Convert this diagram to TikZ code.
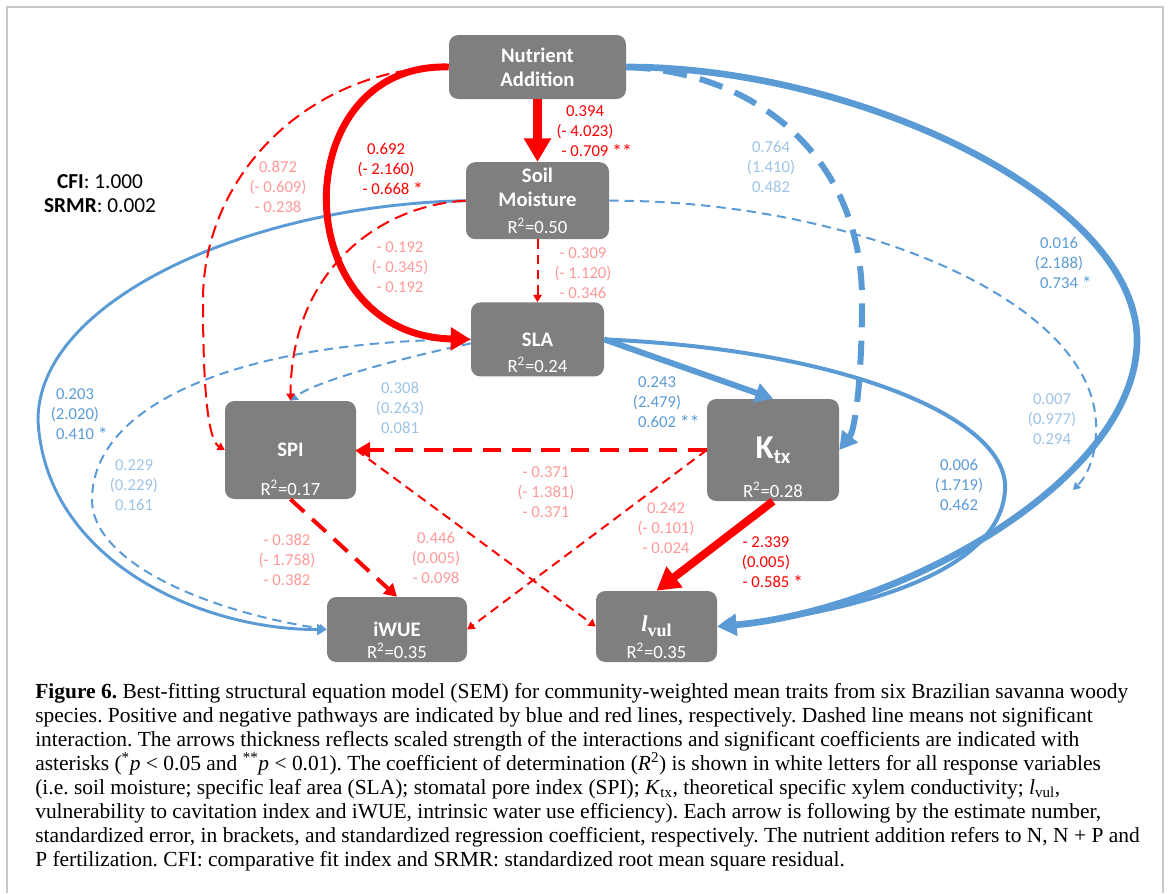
\documentclass[tikz,border=0pt]{standalone}
\usepackage{fontspec}
\setmainfont{Carlito}
\newfontfamily\capfont{Liberation Serif}
\usetikzlibrary{arrows.meta,positioning}
\definecolor{posblue}{HTML}{5B9BD5}
\definecolor{nsblue}{HTML}{9DC3E6}
\definecolor{negred}{HTML}{FF0000}
\definecolor{nsred}{HTML}{FF9999}
\definecolor{boxgray}{HTML}{7F7F7F}
\definecolor{framegray}{HTML}{C8C8C8}
\newcommand{\signif}[1]{\rlap{\ \raisebox{-2pt}{\fontsize{15}{15}\selectfont #1}}}

\begin{document}
\begin{tikzpicture}[x=0.75pt, y=-0.75pt, node distance=47pt,
    box/.style={fill=boxgray, rounded corners=7pt, text=white, align=center, inner sep=0pt, font=\bfseries\fontsize{15.5}{18}\selectfont},
    rsq/.style={text=white, inner sep=0pt, anchor=base, font=\fontsize{14}{16}\selectfont},
    coef/.style={align=center, inner sep=0pt, font=\fontsize{12.5}{15}\selectfont},
    negline/.style={draw=negred, -{Triangle[length=1.5pt 2.6, width=2pt 2.8]}},
    posline/.style={draw=posblue, -{Triangle[length=1.5pt 2.6, width=2pt 2.8]}},
    shortdashes/.style={dash pattern=on 7pt off 4.5pt},
    longdashes/.style={dash pattern=on 10pt off 5pt},
    heavydashes/.style={dash pattern=on 14pt off 8pt},
    bigdashes/.style={dash pattern=on 18pt off 10pt}]
    \useasboundingbox (0,0) rectangle (1170,893);
    \draw [framegray, line width=1.5pt] (7,893) -- (7,7) -- (1163,7) -- (1163,893);

    \node (nutrient) [box, minimum width=132.75pt, minimum height=48pt] at (537.5,67) {Nutrient\\Addition};
    \node (soil) [box, minimum width=107.25pt, minimum height=57.75pt, below=of nutrient] {Soil\\Moisture\\[2pt]{\mdseries\fontsize{14}{16}\selectfont R\textsuperscript{2}=0.50}};
    \node (sla) [box, minimum width=99.75pt, minimum height=55.5pt, below=of soil] {SLA};
    \node (spi) [box, minimum width=98.25pt, minimum height=73.5pt] at (290.5,450) {SPI};
    \node (ktx) [box, minimum width=99pt, minimum height=76.5pt] at (773,450) {{\fontsize{25}{28}\selectfont K}\raisebox{-4pt}{tx}};
    \node (iwue) [box, minimum width=105pt, minimum height=48.75pt] at (397,629.5) {iWUE};
    \node (lvul) [box, minimum width=90.75pt, minimum height=53.25pt] at (656.5,626.5) {\capfont\itshape\fontsize{17}{20}\selectfont l\raisebox{-4pt}{\upshape\fontsize{13.5}{16}\selectfont vul}};
    \node (slar) [rsq] at ([yshift=3.5pt]sla.south) {R\textsuperscript{2}=0.24};
    \node (spir) [rsq] at ([yshift=3pt]spi.south) {R\textsuperscript{2}=0.17};
    \node (ktxr) [rsq] at ([yshift=2.5pt]ktx.south) {R\textsuperscript{2}=0.28};
    \node (iwuer) [rsq] at ([yshift=3pt]iwue.south) {R\textsuperscript{2}=0.35};
    \node (lvulr) [rsq] at ([yshift=3pt]lvul.south) {R\textsuperscript{2}=0.35};
    \coordinate (soilend) at (1073,490);

    \node (fit) [align=center, inner sep=0pt, font=\fontsize{16}{18}\selectfont] at (100,194) {\textbf{CFI}: 1.000\\\textbf{SRMR}: 0.002};

    \draw [posline, line width=1.5pt, shortdashes] (soil.east) .. controls (850,200) and (1100,300) .. (1096,430) .. controls (1096,460) and (1085,478) .. (soilend);
    \draw [posline, line width=1.5pt, shortdashes] ([yshift=-3pt]sla.west) .. controls (370,365) and (310,385) .. (spi.north);
    \draw [posline, line width=1.5pt, shortdashes] (sla.west) .. controls (250,340) and (92,400) .. (92,500) .. controls (92,560) and (200,610) .. (iwue.west);
    \draw [posline, line width=2.2pt] (soil.west) .. controls (250,205) and (38,300) .. (38,420) .. controls (45,560) and (200,630) .. (iwue.west);
    \draw [posline, line width=3pt] (sla.east) .. controls (850,350) and (1010,420) .. (1005,490) .. controls (1000,580) and (830,615) .. (lvul.east);
    \draw [posline, line width=4.5pt, bigdashes] (nutrient.east) .. controls (760,72) and (862,160) .. (862,300) .. controls (862,380) and (855,430) .. (ktx.east);
    \draw [posline, line width=5pt] (nutrient.east) .. controls (860,67) and (1137,200) .. (1137,340) .. controls (1137,480) and (900,610) .. (lvul.east);
    \draw [posline, line width=4.5pt] (sla.east) -- (ktx.north);

    \draw [negline, line width=1.5pt, longdashes] (nutrient.west) .. controls (313,67) and (203,172) .. (203,300) .. controls (203,390) and (208,440) .. (spi.west);
    \draw [negline, line width=1.5pt, longdashes] (soil.west) .. controls (380,205) and (291,270) .. (spi.north);
    \draw [negline, line width=1.5pt, shortdashes] (soil) -- (sla);
    \draw [negline, line width=1.5pt, shortdashes] (spi.east) -- (lvul.west);
    \draw [negline, line width=1.5pt, shortdashes] (ktx.west) -- (iwue.east);
    \draw [negline, line width=3pt, heavydashes] (spi.south) -- (iwue.north);
    \draw [negline, line width=3.4pt, heavydashes] (ktx.west) -- (spi.east);
    \draw [negline, line width=5.2pt] (nutrient.west) .. controls (285,62) and (285,335) .. (sla.west);
    \draw [negline, line width=6.2pt] (nutrient) -- (soil);
    \draw [negline, line width=6pt] (ktx.south) -- (lvul.north);

    \node (nutsoil) [coef, text=negred] at (585,132) {0.394\\(- 4.023)\\- 0.709\signif{**}};
    \node (nutsla) [coef, text=negred] at (386,170) {0.692\\(- 2.160)\\- 0.668\signif{*}};
    \node (nutspi) [coef, text=nsred] at (278,187) {0.872\\(- 0.609)\\- 0.238};
    \node (soilspi) [coef, text=nsred] at (400,267) {- 0.192\\(- 0.345)\\- 0.192};
    \node (soilsla) [coef, text=nsred] at (583,273) {- 0.309\\(- 1.120)\\- 0.346};
    \node (nutktx) [coef, text=nsblue] at (771,167) {0.764\\(1.410)\\0.482};
    \node (nutlvul) [coef, text=posblue] at (1059,264) {0.016\\(2.188)\\0.734\signif{*}};
    \node (soillvul) [coef, text=nsblue] at (1052,419) {0.007\\(0.977)\\0.294};
    \node (slaktx) [coef, text=posblue] at (657,403) {0.243\\(2.479)\\0.602\signif{**}};
    \node (slalvul) [coef, text=posblue] at (959,485) {0.006\\(1.719)\\0.462};
    \node (slaspi) [coef, text=nsblue] at (400,408) {0.308\\(0.263)\\0.081};
    \node (slaiwue) [coef, text=nsblue] at (134,485) {0.229\\(0.229)\\0.161};
    \node (soiliwue) [coef, text=posblue] at (75,415) {0.203\\(2.020)\\0.410\signif{*}};
    \node (spiiwue) [coef, text=nsred] at (287,560) {- 0.382\\(- 1.758)\\- 0.382};
    \node (spilvul) [coef, text=nsred] at (436,558) {0.446\\(0.005)\\- 0.098};
    \node (ktxspi) [coef, text=nsred] at (546,492) {- 0.371\\(- 1.381)\\- 0.371};
    \node (ktxiwue) [coef, text=nsred] at (666,528) {0.242\\(- 0.101)\\- 0.024};
    \node (ktxlvul) [coef, text=negred] at (766,563) {- 2.339\\(0.005)\\- 0.585\signif{*}};

    \node (caption) [anchor=north west, inner sep=0pt, align=left, font=\capfont\fontsize{16.1}{18}\selectfont\frenchspacing] at (35,683) {\textbf{Figure 6.} Best-fitting structural equation model (SEM) for community-weighted mean traits from six Brazilian savanna woody\\species. Positive and negative pathways are indicated by blue and red lines, respectively. Dashed line means not significant\\interaction. The arrows thickness reflects scaled strength of the interactions and significant coefficients are indicated with\\asterisks (\textsuperscript{*}\textit{p} < 0.05 and \textsuperscript{**}\textit{p} < 0.01). The coefficient of determination (\textit{R}\textsuperscript{2}) is shown in white letters for all response variables\\(i.e. soil moisture; specific leaf area (SLA); stomatal pore index (SPI); \textit{K}\textsubscript{tx}, theoretical specific xylem conductivity; \textit{l}\textsubscript{vul},\\vulnerability to cavitation index and iWUE, intrinsic water use efficiency). Each arrow is following by the estimate number,\\standardized error, in brackets, and standardized regression coefficient, respectively. The nutrient addition refers to N, N + P and\\P fertilization. CFI: comparative fit index and SRMR: standardized root mean square residual.};
\end{tikzpicture}
\end{document}
